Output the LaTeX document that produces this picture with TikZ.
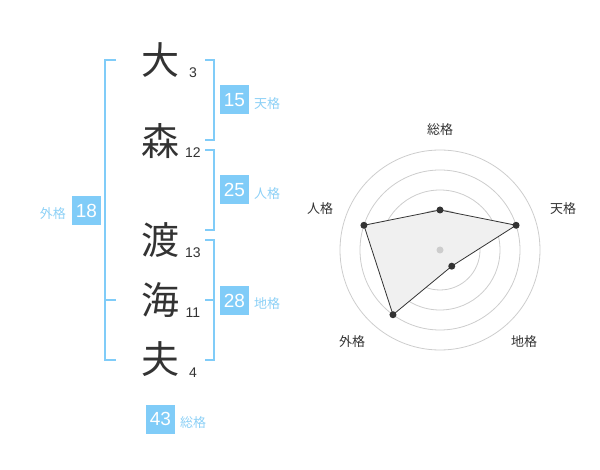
\documentclass[tikz,border=0pt]{standalone}
\usepackage{fontspec}
\setmainfont{Liberation Sans}
\newfontfamily\cjk{Noto Sans CJK JP}
\usetikzlibrary{calc}
\definecolor{boxblue}{RGB}{128,204,248}
\definecolor{lblblue}{RGB}{140,208,246}
\definecolor{ink}{RGB}{51,51,51}
\definecolor{ring}{RGB}{205,205,205}
\definecolor{area}{RGB}{240,240,240}
\tikzset{
  kanji/.style={font=\cjk\fontsize{38}{38}\selectfont, text=ink, inner sep=0pt},
  strokes/.style={font=\fontsize{14}{14}\selectfont, text=ink, inner sep=0pt},
  badge/.style={fill=boxblue, text=white, minimum size=29pt, inner sep=0pt, font=\fontsize{19}{19}\selectfont},
  blabel/.style={text=lblblue, font=\cjk\fontsize{13}{13}\selectfont, inner sep=0pt},
  brk/.style={draw=boxblue, line width=2pt},
  rlabel/.style={text=ink, font=\cjk\fontsize{13}{13}\selectfont, inner sep=0pt},
  vdot/.style={circle, fill=ink, minimum size=7pt, inner sep=0pt},
  cdot/.style={circle, fill=ring, minimum size=7pt, inner sep=0pt},
}
\begin{document}
\begin{tikzpicture}[x=1pt,y=-1pt]
\useasboundingbox (0,0) rectangle (600,470);
% kanji
\node[kanji] (k1) at (160,60) {大};
\node[kanji] (k2) at (160,141) {森};
\node[kanji] (k3) at (160,240) {渡};
\node[kanji] (k4) at (160,300) {海};
\node[kanji] (k5) at (160,359) {夫};
\node[strokes] (n1) at (193,73) {3};
\node[strokes] (n2) at (193,153) {12};
\node[strokes] (n3) at (193,253) {13};
\node[strokes] (n4) at (193,313) {11};
\node[strokes] (n5) at (193,373) {4};
% bracket coordinates
\coordinate (L1) at (116,60); \coordinate (L2) at (105,60);
\coordinate (L3) at (105,360); \coordinate (L4) at (116,360);
\coordinate (LM) at (105,300); \coordinate (LN) at (116,300);
\coordinate (T1) at (205,60); \coordinate (T2) at (214,60);
\coordinate (T3) at (214,140); \coordinate (T4) at (205,140);
\coordinate (J1) at (205,150); \coordinate (J2) at (214,150);
\coordinate (J3) at (214,230); \coordinate (J4) at (205,230);
\coordinate (C1) at (205,240); \coordinate (C2) at (214,240);
\coordinate (C3) at (214,360); \coordinate (C4) at (205,360);
\coordinate (CM) at (214,300); \coordinate (CN) at (205,300);
\draw[brk] (L1) -- (L2) -- (L3) -- (L4);
\draw[brk] (LM) -- (LN);
\draw[brk] (T1) -- (T2) -- (T3) -- (T4);
\draw[brk] (J1) -- (J2) -- (J3) -- (J4);
\draw[brk] (C1) -- (C2) -- (C3) -- (C4);
\draw[brk] (CM) -- (CN);
% badges
\node[badge] (b15) at (234.5,100) {15};
\node[blabel, anchor=west] (l15) at (254,104) {天格};
\node[badge] (b25) at (234.5,190) {25};
\node[blabel, anchor=west] (l25) at (254,194) {人格};
\node[badge] (b28) at (234.5,300.5) {28};
\node[blabel, anchor=west] (l28) at (254,304) {地格};
\node[badge] (b18) at (86.5,210.5) {18};
\node[blabel, anchor=east] (l18) at (66,214) {外格};
\node[badge] (b43) at (160.5,419) {43};
\node[blabel, anchor=west] (l43) at (180,423) {総格};
% radar
\coordinate (RC) at (440,250);
\foreach \r in {20,40,60,80,100} \draw[ring, line width=0.8pt] (RC) circle[radius=\r];
\coordinate (qS) at ($(RC)+(-90:40)$);
\coordinate (qT) at ($(RC)+(-18:80)$);
\coordinate (qC) at ($(RC)+(54:20)$);
\coordinate (qG) at ($(RC)+(126:80)$);
\coordinate (qJ) at ($(RC)+(198:80)$);
\draw[fill=area, draw=ink, line width=0.8pt] (qS) -- (qT) -- (qC) -- (qG) -- (qJ) -- cycle;
\node[cdot] (pc) at (RC) {};
\node[vdot] (pS) at (qS) {};
\node[vdot] (pT) at (qT) {};
\node[vdot] (pC) at (qC) {};
\node[vdot] (pG) at (qG) {};
\node[vdot] (pJ) at (qJ) {};
\node[rlabel] (rS) at (440,130) {総格};
\node[rlabel] (rT) at (563,209) {天格};
\node[rlabel] (rC) at (524,342) {地格};
\node[rlabel] (rG) at (352,342) {外格};
\node[rlabel] (rJ) at (320,209) {人格};
\end{tikzpicture}
\end{document}
